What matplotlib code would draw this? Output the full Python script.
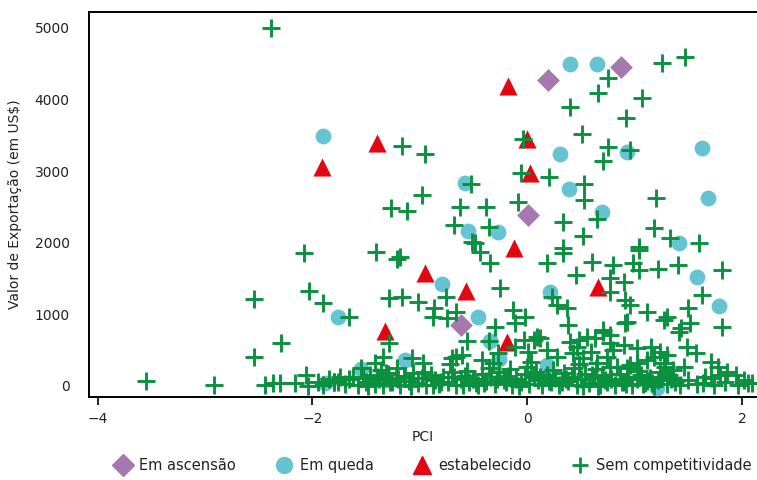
import numpy as np
import matplotlib
matplotlib.use("Agg")
import matplotlib.pyplot as plt
from matplotlib.lines import Line2D

# --- dados ---
asc_x = [0.19, 0.87, 0.01, -0.62]
asc_y = [4275, 4456, 2389, 852]

queda_x = [-1.90, 0.40, 0.65, 0.31, 0.93, 1.63, -0.58, 0.39, 1.68, 0.70, -0.55, -0.27, 1.41,
           -0.79, -0.46, 0.21, -0.35, -0.26, -1.14, 0.18, -1.76, -1.55, -1.88, 1.58, 1.79, 1.21, -1.31]
queda_y = [3493, 4498, 4498, 3241, 3269, 3320, 2836, 2757, 2622, 2431, 2161, 2147, 1993,
           1420, 968, 1309, 633, 373, 363, 293, 960, 237, 38, 1519, 1118, -30, 84]

estab_x = [-1.91, -1.40, -0.18, 0.00, 0.03, -0.12, -0.95, -0.57, -0.19, -1.32, 0.66]
estab_y = [3064, 3399, 4191, 3446, 2971, 1924, 1574, 1331, 619, 772, 1387]

sem_x = [-2.39, -1.17, -0.95, -0.98, -1.27, -1.12, -0.63, -0.38, -0.52, -0.68, -0.36,
         1.26, 1.47, 0.75, 0.66, 1.07, 0.40, 0.92, 0.51, -0.04, 0.75, 0.96, 0.71, -0.06,
         0.20, 0.53, 0.53, 1.20, -0.09, 0.33, 0.65, 0.52, 1.18, 1.33, 1.60, 1.04, -0.49,
         0.33, -2.08, -1.41, -1.21, -2.54, -2.03, -1.90, -1.66, -1.29, -1.17, -1.02,
         -2.29, -2.54, -1.29, -1.34, -1.42, -2.06, -3.55, -2.92, -1.76, -1.62, -1.53,
         -0.51, -0.44, -0.35, -1.18, 0.18, 0.33, 0.45, -0.25, -0.76, -0.87, -0.88, -0.75,
         -0.66, 0.23, 0.28, 0.37, 0.38, -0.13, -0.02, -0.11, -0.30, -0.36, -0.56, -0.61,
         -0.70, -0.27, -0.03, 0.06, 0.12, -0.11, 0.01, 0.18, 0.28, 0.40, 0.46, -0.42,
         -1.07, -0.97, 1.04, 0.60, 0.80, 0.99, 1.04, 1.22, 1.40, 1.81, 0.77, 0.90, 0.77,
         0.91, 0.96, 1.12, 1.27, 1.30, 0.91, 1.50, 1.63, 1.43, 1.52, 1.81, 0.71, 0.63,
         0.77, 0.48, 0.90, 1.02, 1.15, 1.24, 1.30, 1.49, 1.57, 1.71, 1.78, 1.86, 1.94,
         2.02, 2.09, 1.64, 1.71, 1.80, 1.46, 1.36, 1.12, 1.02, 0.93, 0.77, 0.65, 0.52,
         0.43, 0.74, 0.59, 0.80, 1.18, 1.27, -1.55, -1.40, -1.31, -1.21, -1.15, -1.80,
         0.93, 1.41, -0.66, 0.09, 0.56, 0.71, 0.77]
sem_y = [4997, 3357, 3237, 2668, 2482, 2449, 2505, 2505, 2818, 2249, 2226,
         4508, 4601, 4298, 4098, 4019, 3902, 3740, 3516, 3446, 3343, 3297, 3147, 2971,
         2924, 2818, 2598, 2622, 2575, 2295, 2329, 2100, 2212, 2063, 1993, 1946, 1993,
         1924, 1862, 1867, 1774, 1215, 1331, 1155, 968, 1225, 1239, 1178,
         597, 401, 597, 409, 317, 154, 70, 14, 60, 130, 107,
         2016, 1876, 1722, 1798, 1714, 1854, 1551, 1365, 1248, 1085, 968, 946,
         1038, 1248, 1132, 1085, 852, 1062, 968, 876, 829, 633, 633, 433,
         387, 457, 643, 643, 666, 549, 479, 503, 409, 619, 549, 363,
         387, 317, 1900, 1736, 1690, 1714, 1620, 1630, 1690, 1620, 1505, 1457, 1317,
         1201, 1132, 1038, 922, 968, 876, 1085, 1271, 806, 876, 829, 759, 666,
         712, 643, 573, 527, 549, 479, 433, 549, 457, 340, 270, 200, 154,
         84, 38, 38, 107, 154, 270, 224, 363, 317, 247, 270, 317, 387,
         457, 409, 479, 503, 409, 317, 247, 130, 177, 247, 130, 60,
         899, 759, 409, 689, 689, 782, 596]

# faixa densa perto de zero
faixa_x = [-2.44, -2.37, -2.30, -2.16, -2.04, -1.95, -1.90, -1.85, -1.80, -1.74, -1.70, -1.66,
           -1.58, -1.50, -1.46, -1.42, -1.38, -1.34, -1.30, -1.26, -1.22, -1.18, -1.14, -1.10,
           -1.06, -1.02, -0.98, -0.94, -0.90, -0.86, -0.82, -0.78, -0.74, -0.70, -0.66, -0.62,
           -0.58, -0.54, -0.50, -0.46, -0.42, -0.38, -0.34, -0.30, -0.26, -0.22, -0.18, -0.14,
           -0.10, -0.06, -0.02, 0.02, 0.06, 0.10, 0.14, 0.18, 0.22, 0.26, 0.30, 0.34, 0.38,
           0.42, 0.46, 0.50, 0.54, 0.58, 0.62, 0.66, 0.70, 0.74, 0.78, 0.82, 0.86, 0.90, 0.94,
           0.98, 1.02, 1.06, 1.10, 1.14, 1.18, 1.22, 1.26, 1.30, 1.34, 1.38, 1.42, 1.50, 1.58,
           1.66, 1.74, 1.84, 1.96, 2.06,
           -1.48, -1.28, -1.08, -0.88, -0.68, -0.48, -0.28, -0.08, 0.12, 0.32, 0.52, 0.72,
           0.92, 1.12, 1.32, -0.96, -0.56, -0.16, 0.24, 0.64, 1.04, 1.24, -1.36, 0.44, 0.84,
           -0.36, 0.00, -0.80, -0.40, 0.08, 0.36, 0.60, 0.88, 1.16, 1.36, -1.20, -0.60, -0.20,
           0.20, 0.68, 1.08, -0.72, -0.32, 0.04, 0.48, 0.96, 1.28]
faixa_y = [20, 40, 35, 40, 5, 60, 20, 90, 55, 130, 30, 100,
           20, 60, 150, 30, 90, 10, 170, 60, 110, 20, 140, 70,
           180, 40, 110, 10, 150, 80, 30, 120, 60, 190, 20, 100,
           140, 50, 90, 10, 160, 70, 120, 30, 200, 80, 140, 20,
           100, 60, 170, 30, 120, 80, 10, 150, 50, 110, 20, 180, 70,
           130, 10, 90, 160, 40, 110, 5, 140, 60, 100, 20, 170, 50, 120,
           10, 90, 150, 40, 110, 0, 80, 130, 30, 100, 60, 10, 80, 30,
           120, 20, 60, 10, 40,
           0, 50, 0, 20, 130, 40, 90, 0, 130, 60, 0, 80,
           30, 70, 150, 200, 210, 230, 220, 240, 210, 200, 220, 250, 260,
           250, 260, 60, 40, 200, 90, 150, 60, 40, 110, 90, 10, 50,
           70, 20, 30, 300, 320, 330, 310, 290, 260]

cor_asc = '#a678b0'
cor_queda = '#66c4d2'
cor_estab = '#e30613'
cor_sem = '#0a9140'

fig = plt.figure(figsize=(7.57, 4.80), dpi=100)
ax = fig.add_axes([0.1176, 0.173, 0.8824, 0.802])

ax.scatter(asc_x, asc_y, marker='D', s=135, color=cor_asc, linewidths=0, zorder=2)
ax.scatter(queda_x, queda_y, marker='o', s=130, color=cor_queda, linewidths=0, zorder=3)
ax.scatter(estab_x, estab_y, marker='^', s=170, color=cor_estab, linewidths=0, zorder=4)
ax.scatter(sem_x + faixa_x, sem_y + faixa_y, marker='+', s=150, color=cor_sem,
           linewidths=2.1, zorder=5)

ax.set_xlim(-4.08, 2.14)
ax.set_ylim(-154, 5223)
ax.set_xticks([-4, -2, 0, 2])
ax.set_yticks([0, 1000, 2000, 3000, 4000, 5000])
ax.tick_params(axis='x', length=6, width=1.2, labelsize=10, pad=5, labelcolor='#222222')
ax.tick_params(axis='y', length=0, labelsize=10, pad=14, labelcolor='#222222')
for s in ['left', 'bottom', 'top']:
    ax.spines[s].set_linewidth(1.4)
ax.spines['right'].set_visible(False)

ax.set_xlabel('PCI', fontsize=10, labelpad=3, color='#222222')
ax.set_ylabel('Valor de Exportação (em US$)', fontsize=10, labelpad=9, color='#222222')

handles = [
    Line2D([], [], marker='D', color=cor_asc, linestyle='none', markersize=11.5),
    Line2D([], [], marker='o', color=cor_queda, linestyle='none', markersize=11.5),
    Line2D([], [], marker='^', color=cor_estab, linestyle='none', markersize=13),
    Line2D([], [], marker='+', color=cor_sem, linestyle='none', markersize=12, markeredgewidth=2),
]
labels = ['Em ascensão', 'Em queda', 'estabelecido', 'Sem competitividade']
fig.legend(handles, labels, loc='lower center', bbox_to_anchor=(0.572, -0.012), ncol=4,
           frameon=False, fontsize=10.5, handletextpad=0.5, columnspacing=2.7, handlelength=1.2,
           labelcolor='#222222')

fig.savefig('out.png', dpi=100)
